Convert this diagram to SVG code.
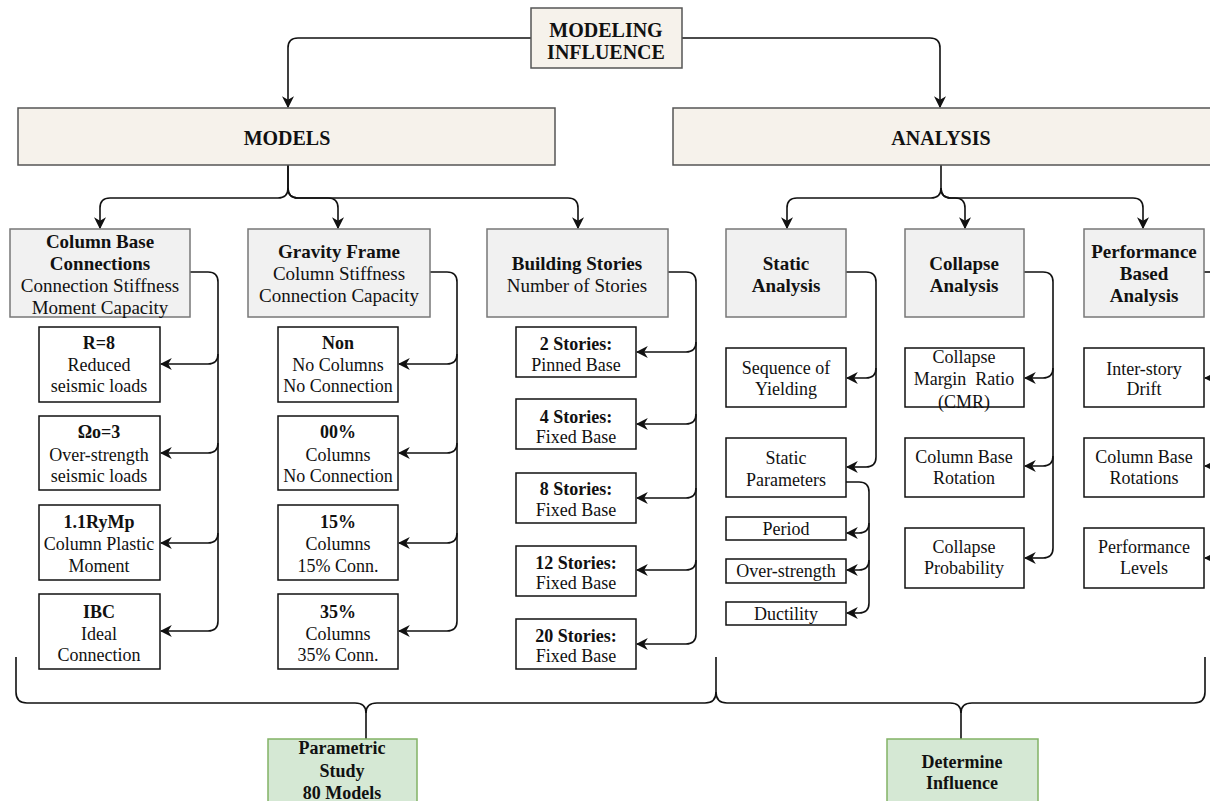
<svg xmlns="http://www.w3.org/2000/svg" width="1210" height="801" viewBox="0 0 1210 801">
<style>
text{font-family:"Liberation Serif","Times New Roman",serif;fill:#111;text-anchor:middle}
.b{font-weight:bold}
.t1{font-size:20px;font-weight:bold}
.t2{font-size:19px}
.t3{font-size:18px}
.beige{fill:#f6f2eb;stroke:#555;stroke-width:1.5}
.gray{fill:#f1f1f1;stroke:#777;stroke-width:1.5}
.white{fill:#fff;stroke:#111;stroke-width:1.5}
.green{fill:#d5e8d4;stroke:#82b366;stroke-width:1.5}
.c{fill:none;stroke:#111;stroke-width:1.6}
.ca{fill:none;stroke:#111;stroke-width:1.6;marker-end:url(#arr)}
</style>
<defs>
<marker id="arr" viewBox="0 0 10 10" refX="9" refY="5" markerWidth="12" markerHeight="12" markerUnits="userSpaceOnUse" orient="auto">
<path d="M0,0 L10,5 L0,10 L3,5 z" fill="#111"/>
</marker>
</defs>
<rect width="1210" height="801" fill="#fff"/>

<g id="connectors">
<path class="ca" d="M531 38 H298 Q288 38 288 48 V107"/>
<path class="ca" d="M682 38 H930 Q940 38 940 48 V107"/>
<path class="ca" d="M288 165 V188 Q288 198 278 198 H110 Q100 198 100 208 V228"/>
<path class="ca" d="M288 165 V188 Q288 198 298 198 H328 Q338 198 338 208 V228"/>
<path class="ca" d="M288 188 Q288 198 298 198 H568 Q578 198 578 208 V228"/>
<path class="ca" d="M941 165 V188 Q941 198 931 198 H797 Q787 198 787 208 V228"/>
<path class="ca" d="M941 188 Q941 198 951 198 H955 Q965 198 965 208 V228"/>
<path class="ca" d="M941 188 Q941 198 951 198 H1133 Q1143 198 1143 208 V228"/>
<path class="c" d="M190 272 H208 Q218 272 218 282 V621 Q218 631 208 631"/>
<path class="ca" d="M218 354 Q218 364 208 364 H161"/>
<path class="ca" d="M218 443 Q218 453 208 453 H161"/>
<path class="ca" d="M218 533 Q218 543 208 543 H161"/>
<path class="ca" d="M208 631 H161"/>
<path class="c" d="M430 272 H447 Q457 272 457 282 V621 Q457 631 447 631"/>
<path class="ca" d="M457 354 Q457 364 447 364 H399"/>
<path class="ca" d="M457 443 Q457 453 447 453 H399"/>
<path class="ca" d="M457 533 Q457 543 447 543 H399"/>
<path class="ca" d="M447 631 H399"/>
<path class="c" d="M668 272 H686 Q696 272 696 282 V634 Q696 644 686 644"/>
<path class="ca" d="M696 342 Q696 352 686 352 H637"/>
<path class="ca" d="M696 414 Q696 424 686 424 H637"/>
<path class="ca" d="M696 488 Q696 498 686 498 H637"/>
<path class="ca" d="M696 560 Q696 570 686 570 H637"/>
<path class="ca" d="M686 644 H637"/>
<path class="c" d="M846 272 H866 Q876 272 876 282 V457 Q876 467 866 467"/>
<path class="ca" d="M876 368 Q876 378 866 378 H847"/>
<path class="ca" d="M866 467 H847"/>
<path class="c" d="M846 482 H859 Q869 482 869 492 V603 Q869 613 859 613"/>
<path class="ca" d="M869 523 Q869 533 859 533 H847"/>
<path class="ca" d="M869 560 Q869 570 859 570 H847"/>
<path class="ca" d="M859 613 H847"/>
<path class="c" d="M1024 272 H1043 Q1053 272 1053 282 V548 Q1053 558 1043 558"/>
<path class="ca" d="M1053 368 Q1053 378 1043 378 H1025"/>
<path class="ca" d="M1053 456 Q1053 466 1043 466 H1025"/>
<path class="ca" d="M1043 558 H1025"/>
<path class="c" d="M1204 272 H1215"/>
<path class="ca" d="M1222 378 H1205"/>
<path class="ca" d="M1222 466 H1205"/>
<path class="ca" d="M1222 558 H1205"/>
<path class="c" d="M16 657 V692 Q16 703 27 703 H355 Q366 703 366 713 V739"/>
<path class="c" d="M716 657 V692 Q716 703 705 703 H377 Q366 703 366 713"/>
<path class="c" d="M716 692 Q716 703 727 703 H950 Q961 703 961 713 V739"/>
<path class="c" d="M1205 657 V692 Q1205 703 1194 703 H972 Q961 703 961 713"/>
</g>

<g id="modeling-influence">
<rect class="beige" x="531" y="8" width="151" height="60"/>
<text class="t1" x="606" y="37">MODELING</text>
<text class="t1" x="606" y="59">INFLUENCE</text>
</g>
<g id="models">
<rect class="beige" x="18" y="108" width="537" height="57"/>
<text class="t1" x="287" y="145">MODELS</text>
</g>
<g id="analysis">
<rect class="beige" x="673" y="108" width="545" height="57"/>
<text class="t1" x="941" y="145">ANALYSIS</text>
</g>

<g id="column-base-connections">
<rect class="gray" x="10" y="229" width="180" height="88"/>
<text class="t2 b" x="100" y="248">Column Base</text>
<text class="t2 b" x="100" y="270">Connections</text>
<text class="t2" x="100" y="292">Connection Stiffness</text>
<text class="t2" x="100" y="314">Moment Capacity</text>
</g>
<g id="gravity-frame">
<rect class="gray" x="248" y="229" width="182" height="88"/>
<text class="t2 b" x="339" y="258">Gravity Frame</text>
<text class="t2" x="339" y="280">Column Stiffness</text>
<text class="t2" x="339" y="302">Connection Capacity</text>
</g>
<g id="building-stories">
<rect class="gray" x="487" y="229" width="181" height="88"/>
<text class="t2 b" x="577" y="270">Building Stories</text>
<text class="t2" x="577" y="292">Number of Stories</text>
</g>
<g id="static-analysis">
<rect class="gray" x="726" y="229" width="120" height="88"/>
<text class="t2 b" x="786" y="270">Static</text>
<text class="t2 b" x="786" y="292">Analysis</text>
</g>
<g id="collapse-analysis">
<rect class="gray" x="905" y="229" width="119" height="88"/>
<text class="t2 b" x="964" y="270">Collapse</text>
<text class="t2 b" x="964" y="292">Analysis</text>
</g>
<g id="performance-based-analysis">
<rect class="gray" x="1084" y="229" width="120" height="88"/>
<text class="t2 b" x="1144" y="258">Performance</text>
<text class="t2 b" x="1144" y="280">Based</text>
<text class="t2 b" x="1144" y="302">Analysis</text>
</g>

<g id="r8">
<rect class="white" x="39" y="327" width="121" height="75"/>
<text class="t3 b" x="99" y="349">R=8</text>
<text class="t3" x="99" y="371">Reduced</text>
<text class="t3" x="99" y="392">seismic loads</text>
</g>
<g id="omega3">
<rect class="white" x="39" y="416" width="121" height="74"/>
<text class="t3 b" x="99" y="438">Ωo=3</text>
<text class="t3" x="99" y="461">Over-strength</text>
<text class="t3" x="99" y="482">seismic loads</text>
</g>
<g id="rymp">
<rect class="white" x="39" y="505" width="121" height="75"/>
<text class="t3 b" x="99" y="528">1.1RyMp</text>
<text class="t3" x="99" y="550">Column Plastic</text>
<text class="t3" x="99" y="572">Moment</text>
</g>
<g id="ibc">
<rect class="white" x="39" y="594" width="121" height="75"/>
<text class="t3 b" x="99" y="618">IBC</text>
<text class="t3" x="99" y="640">Ideal</text>
<text class="t3" x="99" y="661">Connection</text>
</g>

<g id="non">
<rect class="white" x="278" y="327" width="120" height="75"/>
<text class="t3 b" x="338" y="349">Non</text>
<text class="t3" x="338" y="371">No Columns</text>
<text class="t3" x="338" y="392">No Connection</text>
</g>
<g id="p00">
<rect class="white" x="278" y="416" width="120" height="74"/>
<text class="t3 b" x="338" y="438">00%</text>
<text class="t3" x="338" y="461">Columns</text>
<text class="t3" x="338" y="482">No Connection</text>
</g>
<g id="p15">
<rect class="white" x="278" y="505" width="120" height="75"/>
<text class="t3 b" x="338" y="528">15%</text>
<text class="t3" x="338" y="550">Columns</text>
<text class="t3" x="338" y="572">15% Conn.</text>
</g>
<g id="p35">
<rect class="white" x="278" y="594" width="120" height="75"/>
<text class="t3 b" x="338" y="618">35%</text>
<text class="t3" x="338" y="640">Columns</text>
<text class="t3" x="338" y="661">35% Conn.</text>
</g>

<g id="s2">
<rect class="white" x="516" y="327" width="120" height="50"/>
<text class="t3 b" x="576" y="350">2 Stories:</text>
<text class="t3" x="576" y="371">Pinned Base</text>
</g>
<g id="s4">
<rect class="white" x="516" y="399" width="120" height="50"/>
<text class="t3 b" x="576" y="423">4 Stories:</text>
<text class="t3" x="576" y="443">Fixed Base</text>
</g>
<g id="s8">
<rect class="white" x="516" y="473" width="120" height="50"/>
<text class="t3 b" x="576" y="495">8 Stories:</text>
<text class="t3" x="576" y="516">Fixed Base</text>
</g>
<g id="s12">
<rect class="white" x="516" y="546" width="120" height="50"/>
<text class="t3 b" x="576" y="569">12 Stories:</text>
<text class="t3" x="576" y="589">Fixed Base</text>
</g>
<g id="s20">
<rect class="white" x="516" y="619" width="120" height="50"/>
<text class="t3 b" x="576" y="642">20 Stories:</text>
<text class="t3" x="576" y="662">Fixed Base</text>
</g>

<g id="sequence-of-yielding">
<rect class="white" x="726" y="348" width="120" height="59"/>
<text class="t3" x="786" y="374">Sequence of</text>
<text class="t3" x="786" y="395">Yielding</text>
</g>
<g id="static-parameters">
<rect class="white" x="726" y="438" width="120" height="59"/>
<text class="t3" x="786" y="464">Static</text>
<text class="t3" x="786" y="486">Parameters</text>
</g>
<g id="period">
<rect class="white" x="726" y="517" width="120" height="23"/>
<text class="t3" x="786" y="535">Period</text>
</g>
<g id="over-strength">
<rect class="white" x="726" y="559" width="120" height="24"/>
<text class="t3" x="786" y="577">Over-strength</text>
</g>
<g id="ductility">
<rect class="white" x="726" y="602" width="120" height="23"/>
<text class="t3" x="786" y="620">Ductility</text>
</g>

<g id="cmr">
<rect class="white" x="905" y="348" width="119" height="59"/>
<text class="t3" x="964" y="363">Collapse</text>
<text class="t3" x="964" y="385" xml:space="preserve">Margin  Ratio</text>
<text class="t3" x="964" y="408">(CMR)</text>
</g>
<g id="column-base-rotation">
<rect class="white" x="905" y="438" width="119" height="59"/>
<text class="t3" x="964" y="463">Column Base</text>
<text class="t3" x="964" y="484">Rotation</text>
</g>
<g id="collapse-probability">
<rect class="white" x="905" y="528" width="119" height="60"/>
<text class="t3" x="964" y="553">Collapse</text>
<text class="t3" x="964" y="574">Probability</text>
</g>

<g id="inter-story-drift">
<rect class="white" x="1084" y="348" width="120" height="59"/>
<text class="t3" x="1144" y="375">Inter-story</text>
<text class="t3" x="1144" y="395">Drift</text>
</g>
<g id="column-base-rotations">
<rect class="white" x="1084" y="438" width="120" height="59"/>
<text class="t3" x="1144" y="463">Column Base</text>
<text class="t3" x="1144" y="484">Rotations</text>
</g>
<g id="performance-levels">
<rect class="white" x="1084" y="528" width="120" height="60"/>
<text class="t3" x="1144" y="553">Performance</text>
<text class="t3" x="1144" y="574">Levels</text>
</g>

<g id="parametric-study">
<rect class="green" x="268" y="739" width="149" height="66"/>
<text class="t3 b" x="342" y="754">Parametric</text>
<text class="t3 b" x="342" y="777">Study</text>
<text class="t3 b" x="342" y="799">80 Models</text>
</g>
<g id="determine-influence">
<rect class="green" x="887" y="739" width="151" height="66"/>
<text class="t3 b" x="962" y="768">Determine</text>
<text class="t3 b" x="962" y="789">Influence</text>
</g>
</svg>
